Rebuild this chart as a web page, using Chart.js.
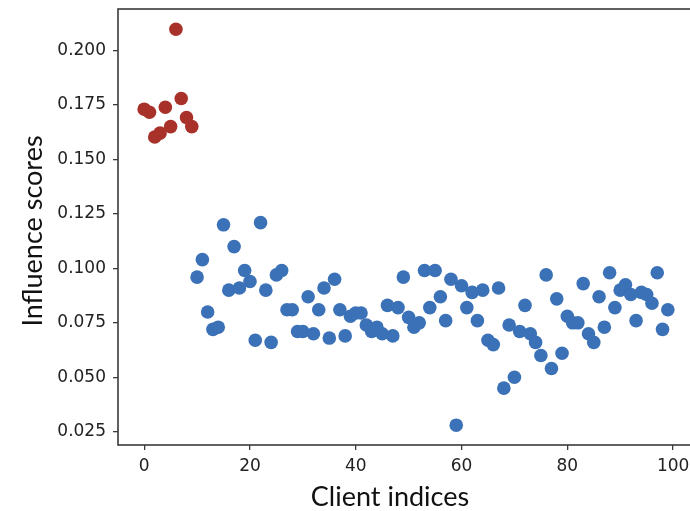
<!DOCTYPE html>
<html>
<head>
<meta charset="utf-8">
<script src="https://cdn.jsdelivr.net/npm/chart.js@4/dist/chart.umd.min.js"></script>
<style>
  html, body { margin: 0; padding: 0; background: #fff; overflow: hidden; }
  #wrap { width: 690px; height: 511px; overflow: hidden; }
  #chartScores { display: block; width: 760px; height: 511px; }
</style>
</head>
<body>
<div id="wrap"><canvas id="chartScores" width="760" height="511"></canvas></div>
<script>
// influence scores per client
var flaggedScores = [0.1731, 0.1717, 0.1603, 0.1621, 0.1740, 0.1651, 0.2098, 0.1780, 0.1693, 0.1651];
var normalScores = [
    0.096, 0.104, 0.080, 0.072, 0.073, 0.120, 0.090, 0.110, 0.091, 0.099,
    0.094, 0.067, 0.121, 0.090, 0.066, 0.097, 0.099, 0.081, 0.081, 0.071,
    0.071, 0.087, 0.070, 0.081, 0.091, 0.068, 0.095, 0.081, 0.069, 0.078,
    0.0795, 0.0795, 0.074, 0.071, 0.073, 0.070, 0.083, 0.069, 0.082, 0.096,
    0.0775, 0.073, 0.075, 0.099, 0.082, 0.099, 0.087, 0.076, 0.095, 0.028,
    0.092, 0.082, 0.089, 0.076, 0.090, 0.067, 0.065, 0.091, 0.045, 0.074,
    0.050, 0.071, 0.083, 0.070, 0.066, 0.060, 0.097, 0.054, 0.086, 0.061,
    0.078, 0.075, 0.075, 0.093, 0.070, 0.066, 0.087, 0.073, 0.098, 0.082,
    0.090, 0.0925, 0.088, 0.076, 0.089, 0.088, 0.084, 0.098, 0.072, 0.081
];
var xTicks = [0, 20, 40, 60, 80, 100];
var yTicks = [0.025, 0.050, 0.075, 0.100, 0.125, 0.150, 0.175, 0.200];
var xTitle = 'Client indices';
var yTitle = 'Influence scores';

var flaggedPoints = flaggedScores.map(function (v, i) { return {x: i, y: v}; });
var normalPoints = normalScores.map(function (v, i) { return {x: i + flaggedScores.length, y: v}; });

var spineColor = '#3a3a3a';
var tickFont = {family: 'DejaVu Sans', size: 17};

// matplotlib style full box plus axis titles placed like the original
var framePlugin = {
    id: 'frame',
    afterDraw: function (chart) {
        var ctx = chart.ctx, a = chart.chartArea;
        ctx.save();
        ctx.strokeStyle = spineColor;
        ctx.lineWidth = 1.6;
        ctx.strokeRect(a.left, a.top, a.right - a.left, a.bottom - a.top);
        ctx.fillStyle = '#111';
        ctx.font = '27px Lato';
        ctx.textAlign = 'center';
        ctx.textBaseline = 'middle';
        ctx.fillText(xTitle, 390, 497);
        ctx.translate(33, 231);
        ctx.rotate(-Math.PI / 2);
        ctx.fillText(yTitle, 0, 0);
        ctx.restore();
    }
};

new Chart(document.getElementById('chartScores').getContext('2d'), {
    type: 'scatter',
    data: {
        datasets: [{
            label: 'normal',
            data: normalPoints,
            backgroundColor: '#3b71b6',
            borderWidth: 0,
            pointRadius: 6.8,
            pointHoverRadius: 6.8
        }, {
            label: 'flagged',
            data: flaggedPoints,
            backgroundColor: '#a8322a',
            borderWidth: 0,
            pointRadius: 6.8,
            pointHoverRadius: 6.8
        }]
    },
    options: {
        responsive: false,
        animation: false,
        layout: {padding: {top: 9, right: 66, left: 0, bottom: 0}},
        plugins: {legend: {display: false}, tooltip: {enabled: false}},
        scales: {
            x: {
                type: 'linear',
                min: -4.95,
                max: 103.95,
                afterFit: function (s) { s.height = 66; s.paddingLeft = 0; s.paddingRight = 0; },
                afterBuildTicks: function (s) { s.ticks = xTicks.map(function (v) { return {value: v}; }); },
                grid: {drawOnChartArea: false, drawTicks: true, tickLength: 5, color: spineColor, lineWidth: 1.3},
                border: {display: false},
                ticks: {font: tickFont, color: '#222', padding: 6, maxRotation: 0}
            },
            y: {
                type: 'linear',
                min: 0.0189,
                max: 0.2191,
                afterFit: function (s) { s.width = 118; s.paddingTop = 0; s.paddingBottom = 0; },
                afterBuildTicks: function (s) { s.ticks = yTicks.map(function (v) { return {value: v}; }); },
                grid: {drawOnChartArea: false, drawTicks: true, tickLength: 5, color: spineColor, lineWidth: 1.3},
                border: {display: false},
                ticks: {
                    font: tickFont, color: '#222', padding: 7,
                    callback: function (v) { return v.toFixed(3); }
                }
            }
        }
    },
    plugins: [framePlugin]
});
</script>
</body>
</html>
